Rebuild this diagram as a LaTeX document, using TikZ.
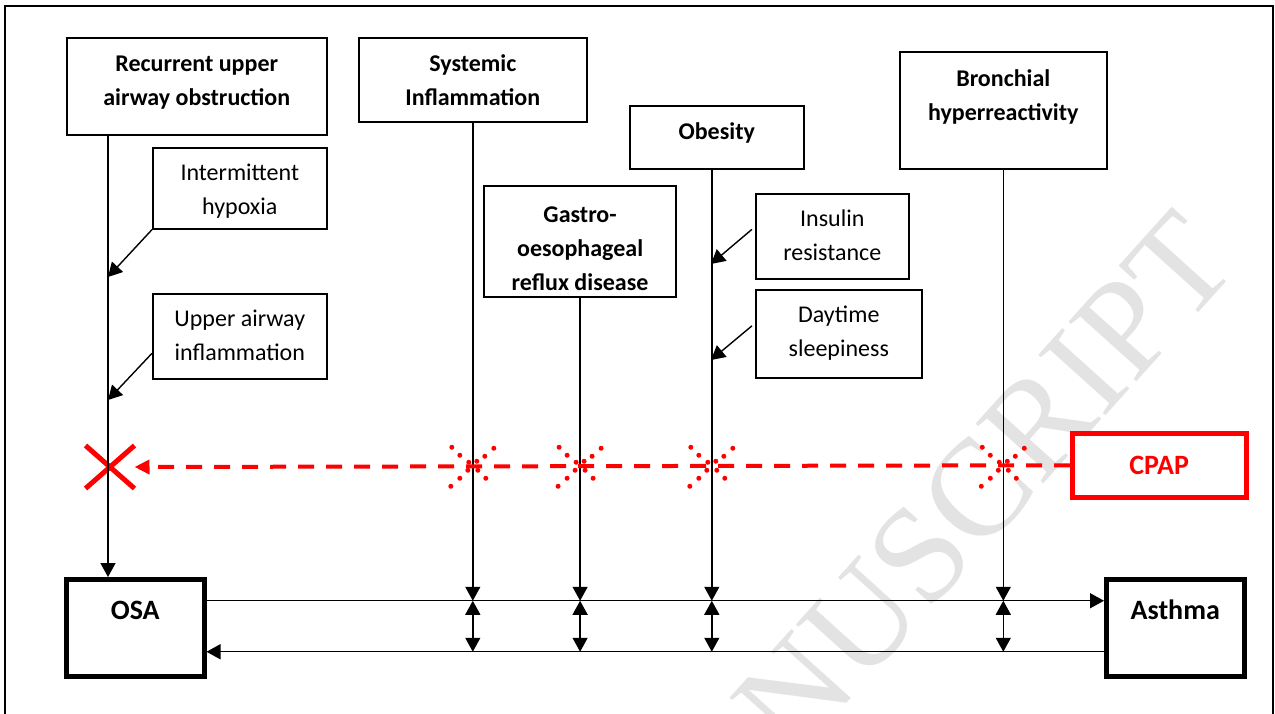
\documentclass[tikz,border=0pt]{standalone}
\usepackage{fontspec}
\setmainfont{Carlito}
\newfontfamily\wmfont{Liberation Serif}
\usetikzlibrary{arrows.meta,shapes.misc}

\tikzset{
  factor/.style={draw, line width=1.6pt, fill=white, anchor=north west, inner sep=0pt,
    align=center, text height=68pt, font=\bfseries\fontsize{24}{34}\selectfont},
  effect/.style={factor, text height=67pt, font=\fontsize{24}{34}\selectfont},
  outcome/.style={factor, line width=4.5pt, minimum width=138pt, text height=40pt,
    text depth=57pt, font=\bfseries\fontsize{28}{34}\selectfont},
  link/.style={line width=1.4pt, -{Triangle[length=14pt,width=15pt]}},
  both/.style={line width=1.4pt, {Triangle[length=14pt,width=15pt]}-{Triangle[length=14pt,width=15pt]}},
  cpapline/.style={red, line width=4pt, dash pattern=on 16pt off 12pt,
    -{Triangle[length=15pt,width=14pt]}},
}

% red dots where CPAP breaks a pathway
\newcommand{\spark}[1]{%
  \begin{scope}[shift={(#1)}]
  \fill[red] (-21,-18) circle (2.5pt);
  \fill[red] (-13,-10) circle (2.5pt);
  \fill[red] (-4,-3) circle (2.5pt);
  \fill[red] (-22,21) circle (2.5pt);
  \fill[red] (-13,13) circle (2.5pt);
  \fill[red] (-5,5) circle (2.5pt);
  \fill[red] (4,-4) circle (2.5pt);
  \fill[red] (12,-9) circle (2.5pt);
  \fill[red] (21,-17) circle (2.5pt);
  \fill[red] (5,5) circle (2.5pt);
  \fill[red] (13,13) circle (2.5pt);
  \end{scope}}

\begin{document}
\begin{tikzpicture}[x=1pt,y=-1pt]

\useasboundingbox (0,0) rectangle (1275,713);

\node[text=black!11, font=\wmfont\fontsize{138}{138}\selectfont, rotate=48] (wm) at (910,566) {MANUSCRIPT};

\draw[line width=1.5pt] (5,6) rectangle (1273,760);

% top row
\node[factor, minimum width=260pt, text depth=29pt] (rec) at (66,37) {Recurrent upper\\airway obstruction};
\node[factor, minimum width=228pt, text depth=16pt] (sys) at (358,37) {Systemic\\Inflammation};
\node[factor, minimum width=174pt, text height=34pt, text depth=29pt] (ob) at (629,105) {Obesity};
\node[factor, minimum width=207pt, text height=69pt, text depth=48pt] (bro) at (899,51) {Bronchial\\hyperreactivity};
\node[factor, line width=2.2pt, minimum width=192pt, text height=104pt, text depth=7pt] (gerd) at (483,185) {Gastro-\\oesophageal\\reflux disease};

% mechanisms
\node[effect, minimum width=174pt, text depth=14pt] (ih) at (152,147) {Intermittent\\hypoxia};
\node[effect, minimum width=174pt, text depth=18pt] (ua) at (152,293) {Upper airway\\inflammation};
\node[effect, minimum width=153pt, text depth=18pt] (ir) at (755,193) {Insulin\\resistance};
\node[effect, minimum width=166pt, text depth=21pt] (ds) at (755,289) {Daytime\\sleepiness};

% bottom row
\node[outcome] (osa) at (64,577) {OSA};
\node[outcome] (asthma) at (1104,577) {Asthma};
\node[draw=red, text=red, line width=4.5pt, minimum width=174pt, minimum height=64pt, anchor=north west,
  font=\bfseries\fontsize{28}{34}\selectfont] (cpap) at (1070,431) {CPAP};
\node[cross out, draw=red, line width=5pt, inner sep=0pt, minimum width=44pt, minimum height=38pt] (stop) at (110,467) {};

\coordinate (hi) at ([yshift=27pt]osa.east);
\coordinate (lo) at ([yshift=-24pt]osa.east);
\coordinate (beam) at (cpap.west);
\coordinate (ob-foot) at ([xshift=-5pt]ob.south);
\coordinate (ih-in) at (108,277);
\coordinate (ua-in) at (108,400);
\coordinate (ir-in) at (711,264);
\coordinate (ds-in) at (711,360);

\draw[link] (hi) -- (hi -| asthma.west);
\draw[link] (lo -| asthma.west) -- (lo);

\draw[link] ([xshift=42pt]rec.south west) -- ([xshift=44pt]osa.north west);
\draw[link] (ih.south west) -- (ih-in);
\draw[link] ([yshift=-17pt]ua.west) -- (ua-in);

\draw[link] (sys.south) -- (sys.south |- hi);
\draw[both] (sys.south |- hi) -- (sys.south |- lo);
\draw[link] (gerd.south) -- (gerd.south |- hi);
\draw[both] (gerd.south |- hi) -- (gerd.south |- lo);
\draw[link] (ob-foot) -- (ob-foot |- hi);
\draw[both] (ob-foot |- hi) -- (ob-foot |- lo);
\draw[link] (bro.south) -- (bro.south |- hi);
\draw[both] (bro.south |- hi) -- (bro.south |- lo);

\draw[link] ([xshift=-3pt,yshift=7pt]ir.west) -- (ir-in);
\draw[link] ([xshift=-3pt,yshift=8pt]ds.west) -- (ds-in);

% CPAP
\draw[cpapline] (cpap.west) -- (stop.east);
\spark{sys.south |- beam}
\spark{gerd.south |- beam}
\spark{ob-foot |- beam}
\spark{bro.south |- beam}

\end{tikzpicture}
\end{document}
